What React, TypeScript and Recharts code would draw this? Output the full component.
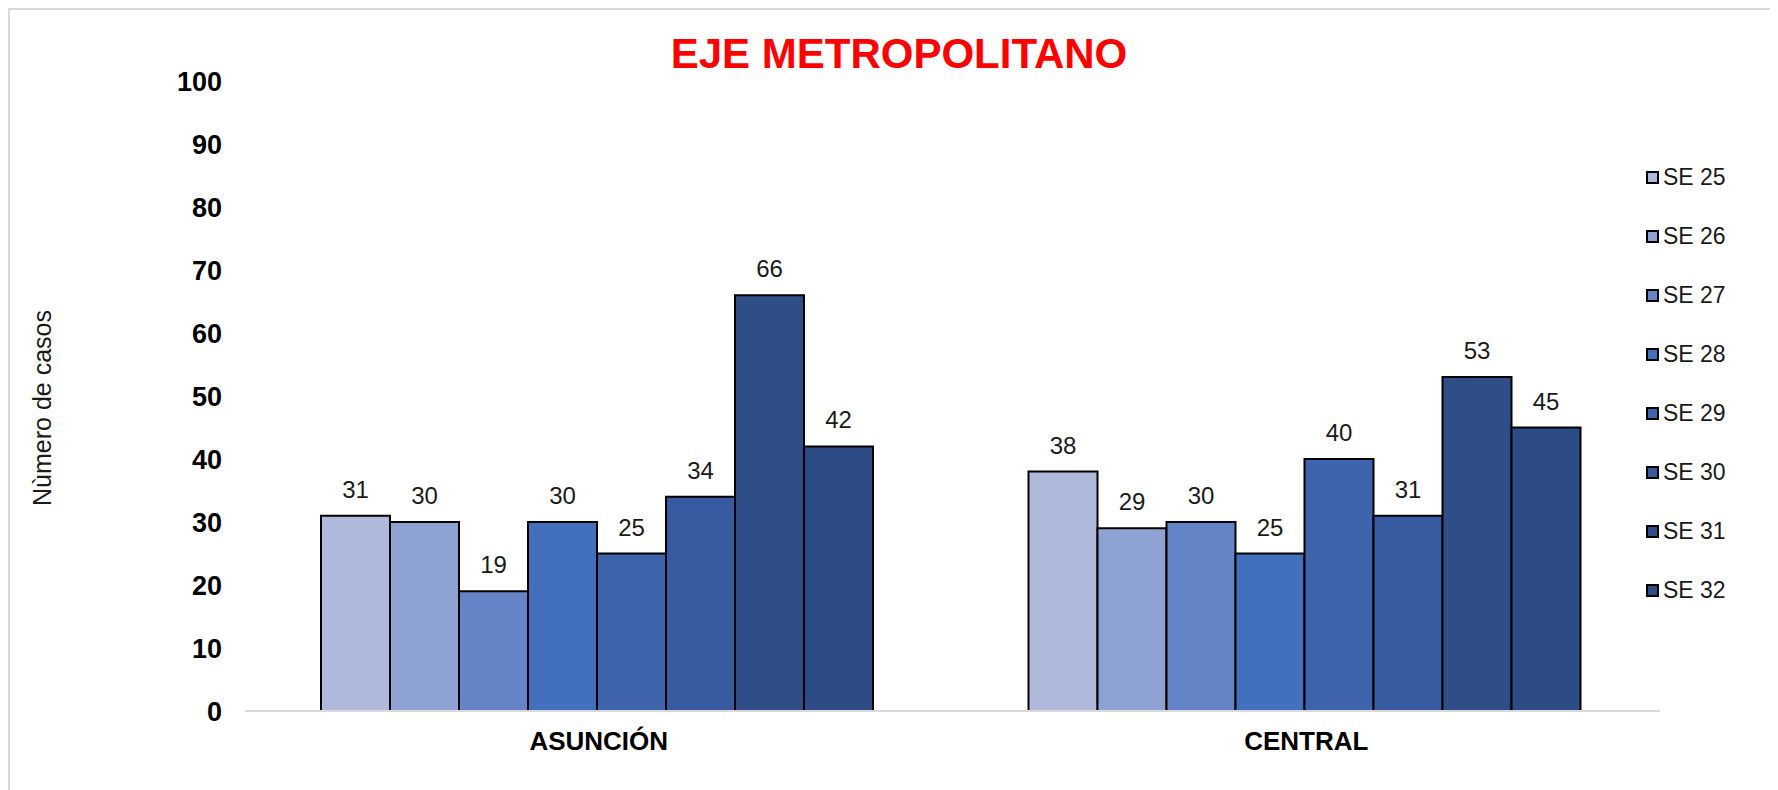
import React from 'react';
import { BarChart, Bar, XAxis, YAxis, Legend, LabelList } from 'recharts';

const regions = ['ASUNCIÓN', 'CENTRAL'];
const weeks = ['SE 25', 'SE 26', 'SE 27', 'SE 28', 'SE 29', 'SE 30', 'SE 31', 'SE 32'];
const asuncion = [31, 30, 19, 30, 25, 34, 66, 42];
const central = [38, 29, 30, 25, 40, 31, 53, 45];
const yTicks = [0, 10, 20, 30, 40, 50, 60, 70, 80, 90, 100];
const colors = ['#aeb9dc', '#8fa3d3', '#6584c8', '#4270bc', '#3d64ad', '#375aa0', '#2f4e87', '#2d4c85'];

const series = [asuncion, central];
const data = regions.map((name, r) => {
  const row: Record<string, any> = { name };
  weeks.forEach((w, i) => {
    row[w] = series[r][i];
  });
  return row;
});

const FONT = '"Liberation Sans", Arial, sans-serif';

function LegendBox({ payload }: any) {
  return (
    <div style={{ fontFamily: FONT }}>
      {(payload || []).map((p: any) => (
        <div key={p.value} style={{ height: 59, display: 'flex', alignItems: 'center' }}>
          <div
            style={{
              width: 9,
              height: 9,
              border: '2px solid #000',
              background: p.color,
              marginRight: 4,
            }}
          />
          <span style={{ fontSize: 23, color: '#1a1a1a' }}>{p.value}</span>
        </div>
      ))}
    </div>
  );
}

function YTitle({ viewBox }: any) {
  const y = viewBox.y + viewBox.height / 2 + 12;
  return (
    <text
      x={34}
      y={y}
      transform={`rotate(-90, 34, ${y})`}
      textAnchor="middle"
      dominantBaseline="central"
      fontFamily={FONT}
      fontSize={25}
      fill="#1a1a1a"
    >
      Nùmero de casos
    </text>
  );
}

export default function App() {
  return (
    <div style={{ position: 'relative', width: 1770, height: 782, background: '#fff' }}>
      <div
        style={{
          position: 'absolute',
          left: 0,
          top: 0,
          right: 0,
          bottom: 0,
          borderLeft: '2px solid #d9d9d9',
          borderTop: '2px solid #d9d9d9',
          pointerEvents: 'none',
        }}
      />
      <div
        style={{
          position: 'absolute',
          left: 591,
          top: 25,
          width: 600,
          textAlign: 'center',
          fontFamily: FONT,
          fontWeight: 'bold',
          fontSize: 42,
          lineHeight: '42px',
          color: '#ff0000',
        }}
      >
        EJE METROPOLITANO
      </div>
      <BarChart
        width={1770}
        height={782}
        data={data}
        margin={{ top: 73, right: 118, bottom: 49, left: 0 }}
        barCategoryGap={76}
        barGap={0}
        style={{ position: 'absolute', left: 0, top: 0 }}
      >
        <XAxis
          dataKey="name"
          height={30}
          axisLine={{ stroke: '#d9d9d9', strokeWidth: 2 }}
          tickLine={false}
          tickSize={0}
          tickMargin={21}
          tick={{ fontFamily: FONT, fontSize: 26, fontWeight: 'bold', fill: '#000' }}
        />
        <YAxis
          width={237}
          domain={[0, 100]}
          ticks={yTicks}
          interval={0}
          axisLine={false}
          tickLine={false}
          tickSize={0}
          tickMargin={23}
          tick={{ fontFamily: FONT, fontSize: 27, fontWeight: 'bold', fill: '#000' }}
          label={<YTitle />}
        />
        <Legend
          layout="vertical"
          align="center"
          verticalAlign="middle"
          content={<LegendBox />}
          wrapperStyle={{ position: 'absolute', left: 1638, top: 140, width: 110 }}
        />
        {weeks.map((w, i) => (
          <Bar
            key={w}
            dataKey={w}
            name={w}
            fill={colors[i]}
            stroke="#000"
            strokeWidth={2}
            isAnimationActive={false}
          >
            <LabelList
              dataKey={w}
              position="top"
              offset={18}
              style={{ fontFamily: FONT, fontSize: 24, fill: '#1a1a1a' }}
            />
          </Bar>
        ))}
      </BarChart>
    </div>
  );
}
